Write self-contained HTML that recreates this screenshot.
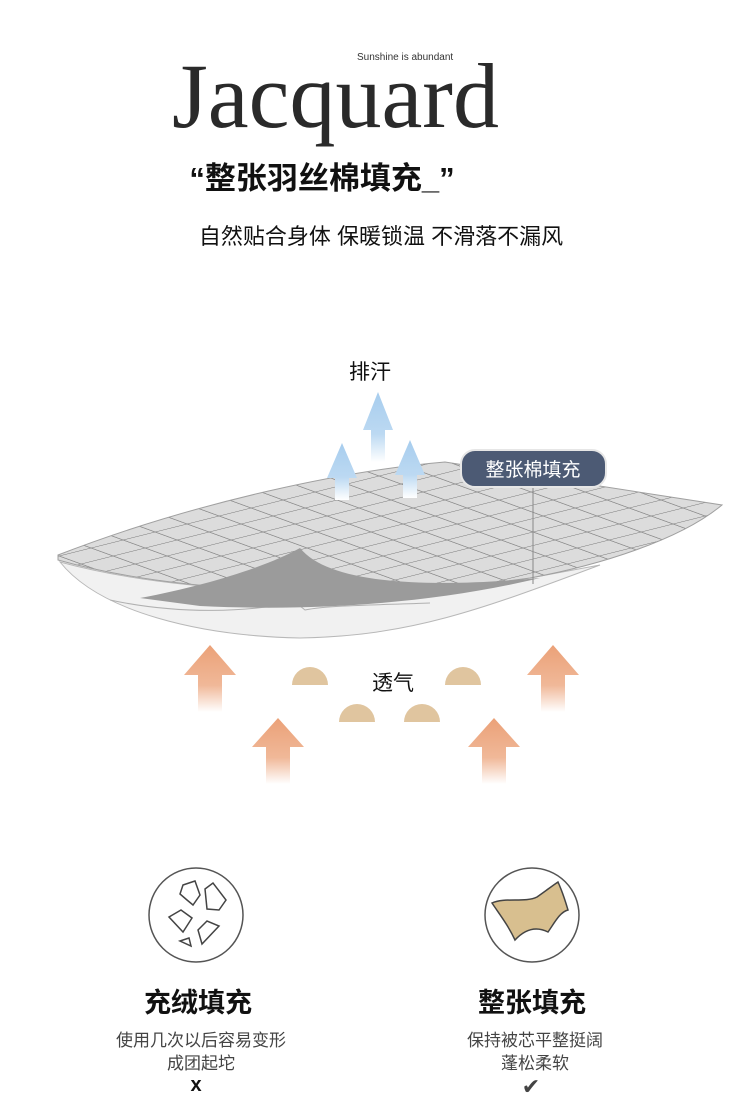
<!DOCTYPE html>
<html><head><meta charset="utf-8"><style>
html,body{margin:0;padding:0;background:#fff;}
body{width:750px;height:1120px;position:relative;overflow:hidden;font-family:"Liberation Sans","Noto Sans CJK SC",sans-serif;}
.t{position:absolute;white-space:nowrap;color:#111;}
</style></head><body>
<div class="t" style="left:357px;top:52px;font-size:10px;color:#333;">Sunshine is abundant</div>
<div class="t" style="left:172px;top:46px;font-family:'Liberation Serif',serif;font-size:92px;letter-spacing:0px;color:#2a2a2a;line-height:100px;">Jacquard</div>
<div class="t" style="left:0;width:644px;text-align:center;top:153px;font-size:31px;font-weight:bold;">“整张羽丝棉填充_”</div>
<div class="t" style="left:0;width:762px;text-align:center;top:219px;font-size:22px;">自然贴合身体 保暖锁温 不滑落不漏风</div>
<div class="t" style="left:0;width:740px;text-align:center;top:356px;font-size:21px;">排汗</div>
<div class="t" style="left:0;width:786px;text-align:center;top:667px;font-size:21px;">透气</div>
<svg width="750" height="1120" style="position:absolute;left:0;top:0" xmlns="http://www.w3.org/2000/svg">
<defs>
<linearGradient id="bl" x1="0" y1="0" x2="0" y2="1"><stop offset="0" stop-color="#a7cdee"/><stop offset="0.6" stop-color="#bcd9f2"/><stop offset="1" stop-color="#fff"/></linearGradient>
<linearGradient id="or" x1="0" y1="0" x2="0" y2="1"><stop offset="0" stop-color="#eba178"/><stop offset="0.6" stop-color="#f0b898"/><stop offset="1" stop-color="#fff"/></linearGradient>
<pattern id="grid" patternUnits="userSpaceOnUse" width="1" height="1" patternTransform="matrix(32,-8,22,8,58,556)">
<rect width="1" height="1" fill="#dcdcdc"/>
<path d="M0 0H1M0 0V1" stroke="#888" stroke-width="0.08" fill="none"/>
</pattern>
</defs>
<path d="M60,562 C100,612 200,636 300,638 C410,636 480,610 600,565 L530,578 C400,596 200,600 60,562 Z" fill="#f1f1f1" stroke="#b8b8b8" stroke-width="1"/>
<path d="M110,600 C180,615 250,612 295,602 L305,610 C330,605 380,605 430,603" fill="none" stroke="#b0b0b0" stroke-width="1"/>
<path d="M58,555 C200,500 350,470 445,462 L722,505 C680,540 600,565 530,578 C400,596 200,600 58,560 Z" fill="url(#grid)"/>
<path d="M58,555 C200,500 350,470 445,462 L722,505 C680,540 600,565 530,578 C400,596 200,600 58,560 Z" fill="none" stroke="#a0a0a0" stroke-width="1"/>
<path d="M140,598 C210,585 270,565 300,548 C330,585 430,588 540,578 C440,602 320,612 200,606 Z" fill="#9b9b9b"/>
<path d="M378,392 L393,430 L385,430 L385,462 L371,462 L371,430 L363,430 Z" fill="url(#bl)"/>
<path d="M342,443 L357,478 L349,478 L349,500 L335,500 L335,478 L327,478 Z" fill="url(#bl)"/>
<path d="M410,440 L425,475 L417,475 L417,498 L403,498 L403,475 L395,475 Z" fill="url(#bl)"/>
<line x1="533" y1="486" x2="533" y2="584" stroke="#888" stroke-width="1"/>
<rect x="461" y="450" width="145" height="37" rx="14" fill="#4c5a74" stroke="#e6e6e6" stroke-width="2"/>
<text x="533" y="476" text-anchor="middle" font-size="19" fill="#fff" font-family="Liberation Sans,Noto Sans CJK SC,sans-serif">整张棉填充</text>
<path d="M210,645 L236,675 L222,675 L222,712 L198,712 L198,675 L184,675 Z" fill="url(#or)"/>
<path d="M553,645 L579,675 L565,675 L565,712 L541,712 L541,675 L527,675 Z" fill="url(#or)"/>
<path d="M278,718 L304,747 L290,747 L290,784 L266,784 L266,747 L252,747 Z" fill="url(#or)"/>
<path d="M494,718 L520,747 L506,747 L506,784 L482,784 L482,747 L468,747 Z" fill="url(#or)"/>
<path d="M292,685 A18,18 0 0 1 328,685 Z" fill="#e0c59f"/>
<path d="M445,685 A18,18 0 0 1 481,685 Z" fill="#e0c59f"/>
<path d="M339,722 A18,18 0 0 1 375,722 Z" fill="#e0c59f"/>
<path d="M404,722 A18,18 0 0 1 440,722 Z" fill="#e0c59f"/>
<circle cx="196" cy="915" r="47" fill="#fff" stroke="#555" stroke-width="1.5"/>
<g fill="none" stroke="#444" stroke-width="1.5">
<path d="M183,885 L195,881 L200,895 L193,905 L187,900 L180,894 Z"/>
<path d="M205,889 L213,883 L226,900 L219,910 L207,909 Z"/>
<path d="M169,917 L181,910 L192,918 L183,932 Z"/>
<path d="M198,930 L207,921 L219,926 L202,944 Z"/>
<path d="M180,941 L189,938 L191,946 Z"/>
</g>
<circle cx="532" cy="915" r="47" fill="#fff" stroke="#555" stroke-width="1.5"/>
<path d="M492,903 C505,897 525,903 537,897 C547,890 552,886 558,882 C563,893 565,900 568,910 C560,912 555,922 548,932 C540,928 528,926 515,940 C508,925 500,915 492,903 Z" fill="#d8bf8f" stroke="#444" stroke-width="1.5"/>
</svg>
<div class="t" style="left:144px;top:981px;font-size:27px;font-weight:bold;">充绒填充</div>
<div class="t" style="left:478px;top:981px;font-size:27px;font-weight:bold;">整张填充</div>
<div class="t" style="left:0;width:402px;text-align:center;top:1026px;font-size:17px;color:#444;">使用几次以后容易变形</div>
<div class="t" style="left:0;width:402px;text-align:center;top:1049px;font-size:17px;color:#444;">成团起坨</div>
<div class="t" style="left:0;width:392px;text-align:center;top:1074px;font-size:20px;font-weight:bold;">x</div>
<div class="t" style="left:0;width:1070px;text-align:center;top:1026px;font-size:17px;color:#444;">保持被芯平整挺阔</div>
<div class="t" style="left:0;width:1070px;text-align:center;top:1049px;font-size:17px;color:#444;">蓬松柔软</div>
<div class="t" style="left:0;width:1062px;text-align:center;top:1074px;font-size:22px;color:#444;">✔</div>
</body></html>
